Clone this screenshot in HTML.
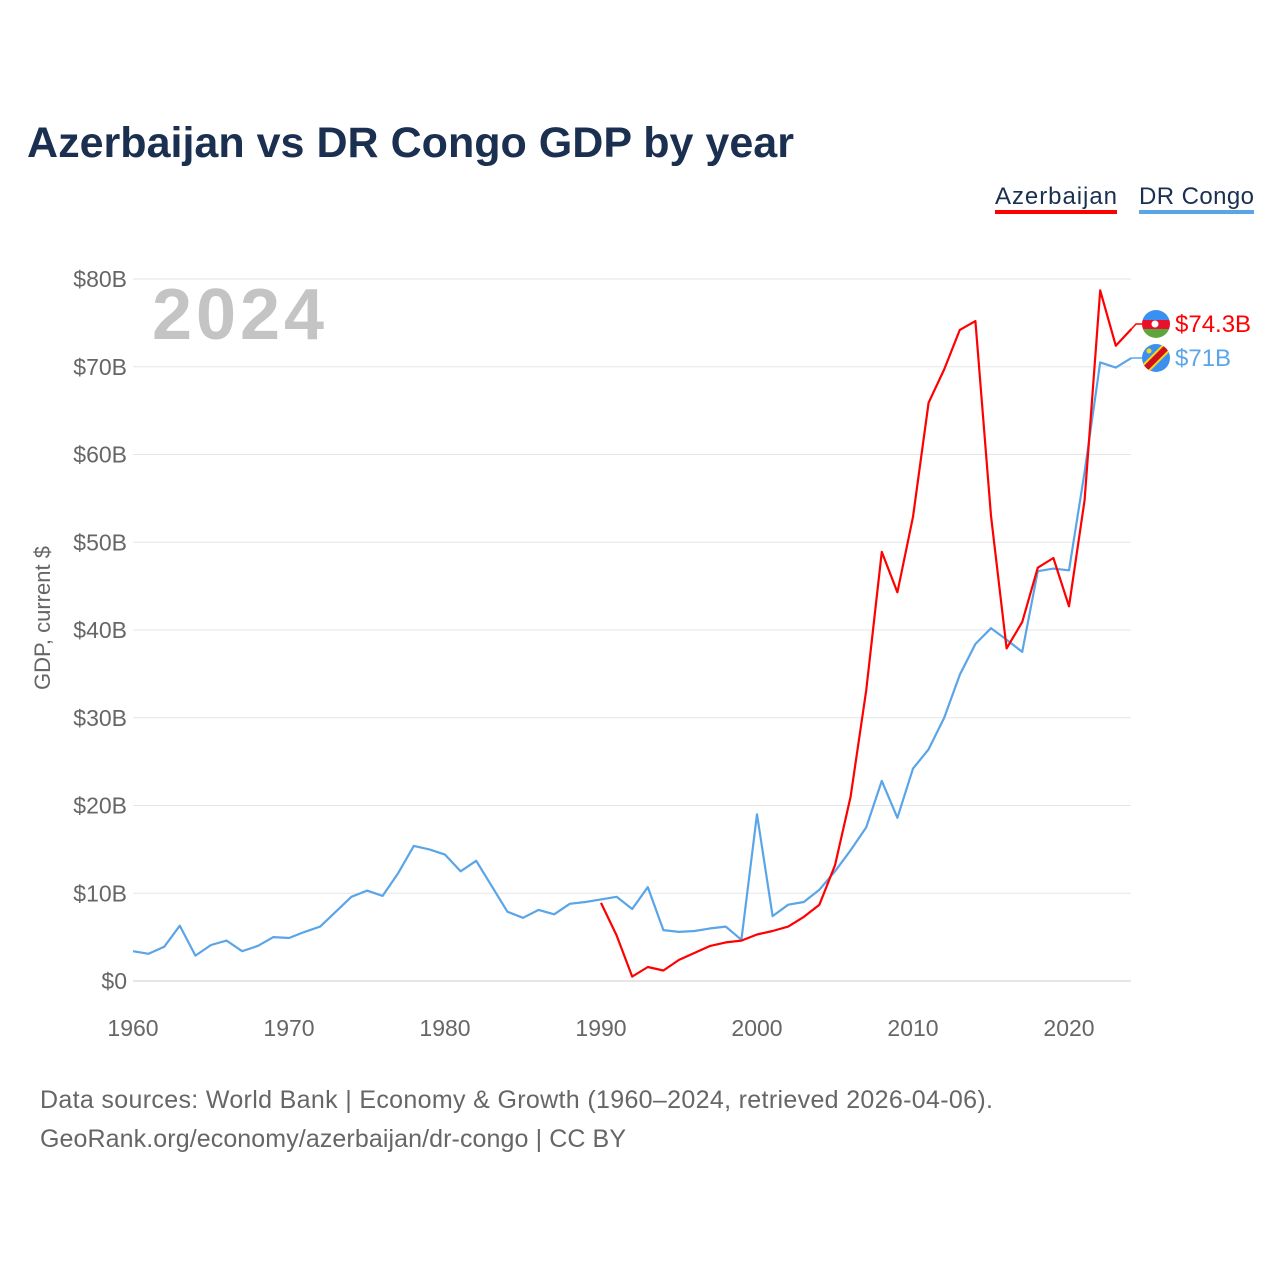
<!DOCTYPE html>
<html><head><meta charset="utf-8"><style>
body{margin:0;background:#fff;width:1280px;height:1280px;overflow:hidden;font-family:"Liberation Sans",sans-serif}
</style></head><body>
<svg id="chart" width="1280" height="1280" xmlns="http://www.w3.org/2000/svg" font-family="Liberation Sans, sans-serif">
<text x="27" y="157" font-size="43" font-weight="bold" fill="#1b3050" textLength="767" lengthAdjust="spacingAndGlyphs">Azerbaijan vs DR Congo GDP by year</text>
<g><text x="995" y="204" font-size="24" fill="#1b3050" textLength="122">Azerbaijan</text><rect x="995" y="210" width="122" height="4" fill="#ff0000"/></g>
<g><text x="1139" y="204" font-size="24" fill="#1b3050" textLength="115">DR Congo</text><rect x="1139" y="210" width="115" height="4" fill="#5aa5e8"/></g>
<text x="152" y="339" font-size="72" font-weight="bold" fill="#c4c4c4" textLength="172">2024</text>
<text transform="translate(50,618) rotate(-90)" text-anchor="middle" font-size="22" fill="#666">GDP, current $</text>
<g id="grid"></g><g id="series"></g>
<text x="40" y="1108" font-size="25" fill="#666" textLength="953">Data sources: World Bank | Economy &amp; Growth (1960–2024, retrieved 2026-04-06).</text>
<text x="40" y="1147" font-size="25" fill="#666" textLength="586">GeoRank.org/economy/azerbaijan/dr-congo | CC BY</text>
</svg>
<script>
const yTicks=[0,10,20,30,40,50,60,70,80];
const xTicks=[1960,1970,1980,1990,2000,2010,2020];
const congoStart=1960;
const congoValues=[3.4,3.1,3.9,6.3,2.9,4.1,4.6,3.4,4.0,5.0,4.9,5.6,6.2,7.9,9.6,10.3,9.7,12.3,15.4,15.0,14.4,12.5,13.7,10.8,7.9,7.2,8.1,7.6,8.8,9.0,9.3,9.6,8.2,10.7,5.8,5.6,5.7,6.0,6.2,4.7,19.0,7.4,8.7,9.0,10.4,12.5,14.9,17.5,22.8,18.6,24.2,26.4,30.0,34.9,38.4,40.2,38.9,37.5,46.7,47.0,46.8,58.0,70.5,69.9,71.0];
const azStart=1990;
const azValues=[8.9,5.2,0.5,1.6,1.2,2.4,3.2,4.0,4.4,4.6,5.3,5.7,6.2,7.3,8.7,13.2,21.0,33.1,48.9,44.3,52.9,65.9,69.7,74.2,75.2,53.0,37.9,40.9,47.1,48.2,42.7,54.8,78.7,72.4,74.3];
const NS='http://www.w3.org/2000/svg';
const X=y=>133+(y-1960)*15.6;
const Y=v=>981-v*8.775;
function mk(t,a,p){const e=document.createElementNS(NS,t);for(const k in a)e.setAttribute(k,a[k]);p.appendChild(e);return e;}
const grid=document.getElementById('grid'),ser=document.getElementById('series');
yTicks.forEach(v=>{
 const l=mk('line',{x1:133,x2:1131,y1:Y(v),y2:Y(v),stroke:v===0?'#ccc':'#e6e6e6','stroke-width':1},grid);
 
 
 const t=mk('text',{x:127,y:Y(v)+8,'text-anchor':'end','font-size':23,fill:'#666'},grid);
 
 
 t.textContent='$'+v+(v?'B':'');
});
xTicks.forEach(v=>{
 const t=mk('text',{x:X(v),y:1036,'text-anchor':'middle','font-size':23,fill:'#666'},grid);
 
 
 t.textContent=v;
});
function line(start,vals,color,name){
 const d=vals.map((v,i)=>(i?'L':'M')+X(start+i).toFixed(1)+','+Y(v).toFixed(1)).join('');
 const p=mk('path',{d:d,fill:'none',stroke:color,'stroke-width':2.2,'stroke-linejoin':'round'},ser);
 
 
}
line(congoStart,congoValues,'#5aa5e8','dr-congo-line');
line(azStart,azValues,'#ff0000','azerbaijan-line');
const lastAz=azValues[azValues.length-1],lastC=congoValues[congoValues.length-1];
const ly1=Y(lastAz),ly2=Y(lastC);
const labAzY=324,labCY=358;
mk('path',{d:`M${X(2024)},${ly1}L1136,${labAzY}L1142,${labAzY}`,stroke:'#ff0000',fill:'none','stroke-width':1.5},ser);
mk('path',{d:`M${X(2024)},${ly2}L1136,${labCY}L1142,${labCY}`,stroke:'#5aa5e8',fill:'none','stroke-width':1.5},ser);
const fa=mk('g',{},ser);


const cpa=mk('clipPath',{id:'ca'},fa);
mk('circle',{cx:1156,cy:labAzY,r:14},cpa);
const ga=mk('g',{'clip-path':'url(#ca)'},fa);
mk('rect',{x:1142,y:labAzY-14,width:28,height:10,fill:'#3a8ff0'},ga);
mk('rect',{x:1142,y:labAzY-4,width:28,height:9,fill:'#e8112d'},ga);
mk('rect',{x:1142,y:labAzY+5,width:28,height:10,fill:'#5fa53e'},ga);
mk('circle',{cx:1155,cy:labAzY,r:3.5,fill:'#fff'},ga);
const fc=mk('g',{},ser);


const cpc=mk('clipPath',{id:'cc'},fc);
mk('circle',{cx:1156,cy:labCY,r:14},cpc);
const gc=mk('g',{'clip-path':'url(#cc)'},fc);
mk('rect',{x:1142,y:labCY-14,width:28,height:28,fill:'#3a8ff0'},gc);
mk('line',{x1:1140,y1:labCY+16,x2:1172,y2:labCY-16,stroke:'#f7d618','stroke-width':10},gc);
mk('line',{x1:1140,y1:labCY+16,x2:1172,y2:labCY-16,stroke:'#ce1021','stroke-width':6},gc);
mk('circle',{cx:1149,cy:labCY-7,r:2.5,fill:'#f7d618'},gc);
const ta=mk('text',{x:1175,y:labAzY+8,'font-size':24,fill:'#ff0000'},ser);


ta.textContent='$'+lastAz+'B';
const tc=mk('text',{x:1175,y:labCY+8,'font-size':24,fill:'#5aa5e8'},ser);


tc.textContent='$'+lastC+'B';
</script>
</body></html>
